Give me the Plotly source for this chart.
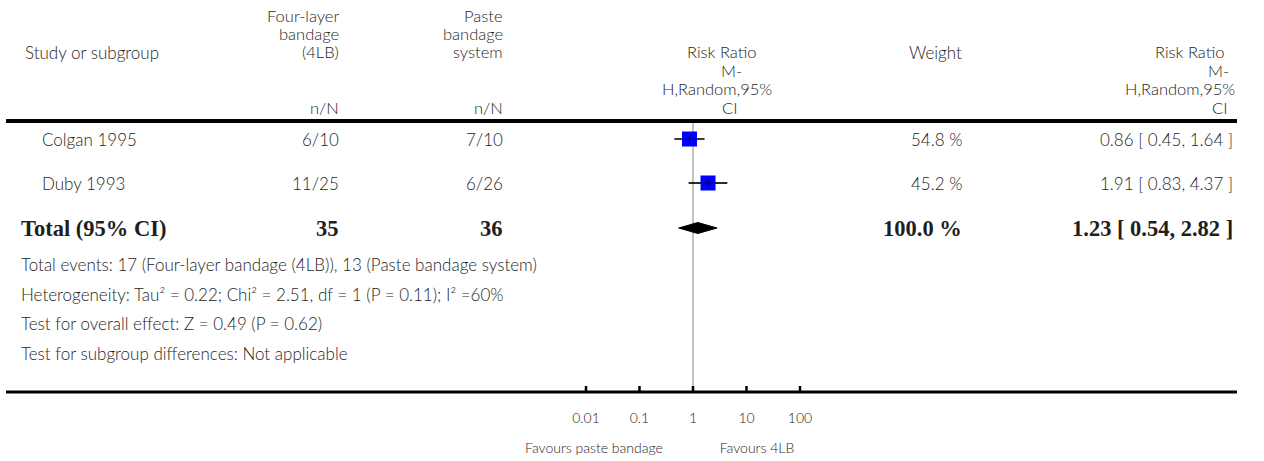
import plotly.graph_objects as go

W, H = 1264, 461

# ---- data ----
studies = ["Colgan 1995", "Duby 1993"]
events_4lb = ["6/10", "11/25"]
events_paste = ["7/10", "6/26"]
rr = [0.86, 1.91]
ci_lo = [0.45, 0.83]
ci_hi = [1.64, 4.37]
weights = [54.8, 45.2]
total_n = ["35", "36"]
total_rr = [1.23]
total_lo = [0.54]
total_hi = [2.82]
total_weight = [100.0]
tick_vals = [0.01, 0.1, 1, 10, 100]
tick_text = ["0.01", "0.1", "1", "10", "100"]
footer_lines = [
    "Total events: 17 (Four-layer bandage (4LB)), 13 (Paste bandage system)",
    "Heterogeneity: Tau² = 0.22; Chi² = 2.51, df = 1 (P = 0.11); I² =60%",
    "Test for overall effect: Z = 0.49 (P = 0.62)",
    "Test for subgroup differences: Not applicable",
]
favours_text = ["Favours paste bandage", "Favours 4LB"]
favours_pos = [0.0141, 15.7]

# ---- layout constants (page pixels) ----
X_ONE = 693.0
PX_DEC = 53.5
SANS = "Lato"
SERIF = "Liberation Serif"
TXT = "#1e1e1e"
FS = 17
HFS = 16.5
BF = 22.5
row_y = [139, 183]
total_y = 228
footer_y = [264, 294, 323, 353]
axis_y = 392
rule_y = 121

fig = go.Figure()
ann = []


def px(x):
    return x / W


def text(x, y, s, anchor="left", size=FS, bold=False, serif=False):
    ann.append(dict(
        x=px(x), y=y, xref="paper", yref="y", text=s, showarrow=False,
        xanchor=anchor, yanchor="middle", borderpad=0,
        font=dict(family=SERIF if serif else SANS, size=size, color=TXT,
                  weight=700 if bold else 300),
    ))


# header
hy = [16, 34, 52, 70.5, 89, 107.5]
text(24, hy[2], "Study or subgroup")
for s, y in zip(["Four-layer", "bandage", "(4LB)"], hy[:3]):
    text(340, y, s, "right", size=HFS)
text(340, hy[5], "n/N", "right", size=HFS)
for s, y in zip(["Paste", "bandage", "system"], hy[:3]):
    text(504, y, s, "right", size=HFS)
text(504, hy[5], "n/N", "right", size=HFS)
for s, y, cx in zip(["Risk Ratio", "M-", "H,Random,95%", "CI"], hy[2:], [722, 731, 717, 729]):
    text(cx, y, s, "center", size=HFS)
text(963, hy[2], "Weight", "right")
for s, y, rx in zip(["Risk Ratio", "M-", "H,Random,95%", "CI"], hy[2:], [1226, 1230, 1236, 1228]):
    text(rx, y, s, "right", size=HFS)

# study rows
for i, y in enumerate(row_y):
    text(41, y, studies[i])
    text(340, y, events_4lb[i], "right")
    text(504, y, events_paste[i], "right")
    text(963, y, f"{weights[i]:.1f} %", "right")
    text(1234, y, f"{rr[i]:.2f} [ {ci_lo[i]:.2f}, {ci_hi[i]:.2f} ]", "right")

# total row
text(20, total_y, "Total (95% CI)", size=BF, bold=True, serif=True)
text(340, total_y, total_n[0], "right", size=BF, bold=True, serif=True)
text(504, total_y, total_n[1], "right", size=BF, bold=True, serif=True)
text(963, total_y, f"{total_weight[0]:.1f} %", "right", size=BF, bold=True, serif=True)
text(1234, total_y, f"{total_rr[0]:.2f} [ {total_lo[0]:.2f}, {total_hi[0]:.2f} ]", "right",
     size=BF, bold=True, serif=True)

for s, y in zip(footer_lines, footer_y):
    text(20, y, s)

# rules
shapes = [
    dict(type="line", xref="paper", yref="y", x0=px(6), x1=px(1237), y0=rule_y, y1=rule_y,
         line=dict(color="black", width=4)),
    dict(type="line", xref="paper", yref="y", x0=px(6), x1=px(1237), y0=axis_y, y1=axis_y,
         line=dict(color="black", width=3)),
]

# vertical no-effect line
fig.add_trace(go.Scatter(x=[1, 1], y=[rule_y + 2, axis_y], mode="lines",
                         line=dict(color="#999999", width=1.2), hoverinfo="skip"))

# axis ticks
tx, ty = [], []
for t in tick_vals:
    tx += [t, t, None]
    ty += [axis_y - 6, axis_y, None]
fig.add_trace(go.Scatter(x=tx, y=ty, mode="lines", line=dict(color="black", width=2.5),
                         hoverinfo="skip"))
fig.add_trace(go.Scatter(x=tick_vals, y=[419] * len(tick_vals), mode="text", text=tick_text,
                         textfont=dict(family=SANS, size=14, color=TXT, weight=300),
                         hoverinfo="skip"))

# CI lines
cx, cy = [], []
for lo, hi, y in zip(ci_lo, ci_hi, row_y):
    cx += [lo, hi, None]
    cy += [y, y, None]
fig.add_trace(go.Scatter(x=cx, y=cy, mode="lines", line=dict(color="black", width=1.3),
                         hoverinfo="skip"))
# squares
fig.add_trace(go.Scatter(x=rr, y=row_y, mode="markers",
                         marker=dict(symbol="square", size=15, color="#0000FF",
                                     line=dict(width=0)), hoverinfo="skip"))
# CI line over square + point tick
ox, oy = [], []
for r, y in zip(rr, row_y):
    ox += [r, r, None]
    oy += [y - 3, y + 3, None]
fig.add_trace(go.Scatter(x=cx, y=cy, mode="lines", line=dict(color="black", width=1),
                         opacity=0.6, hoverinfo="skip"))
fig.add_trace(go.Scatter(x=ox, y=oy, mode="lines", line=dict(color="black", width=1),
                         hoverinfo="skip"))

# diamond
fig.add_trace(go.Scatter(
    x=[total_lo[0], total_rr[0], total_hi[0], total_rr[0], total_lo[0]],
    y=[total_y, total_y - 5.5, total_y, total_y + 5.5, total_y],
    mode="lines", fill="toself", fillcolor="black", line=dict(color="black", width=1),
    hoverinfo="skip"))

# favours labels
fig.add_trace(go.Scatter(x=favours_pos, y=[449, 449], mode="text", text=favours_text,
                         textfont=dict(family=SANS, size=14, color=TXT, weight=300),
                         hoverinfo="skip"))

fig.update_layout(
    width=W, height=H, margin=dict(l=0, r=0, t=0, b=0),
    paper_bgcolor="white", plot_bgcolor="white", showlegend=False,
    xaxis=dict(type="log", range=[(0 - X_ONE) / PX_DEC, (W - X_ONE) / PX_DEC],
               visible=False, fixedrange=True),
    yaxis=dict(range=[H, 0], visible=False, fixedrange=True),
    annotations=ann, shapes=shapes,
)
fig.write_html("out.html", config={"displayModeBar": False, "staticPlot": True},
               post_script="document.body.style.margin='0';document.body.style.overflow='hidden';")
